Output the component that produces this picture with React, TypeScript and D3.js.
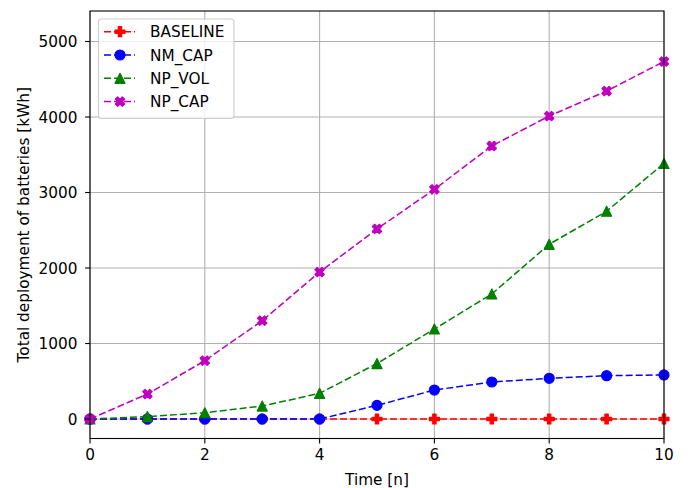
import React from "react";
import * as d3 from "d3";

const timeSteps = [0, 1, 2, 3, 4, 5, 6, 7, 8, 9, 10];
const baseline = [0, 0, 0, 0, 0, 0, 0, 0, 0, 0, 0];
const nmCap = [0, 0, 0, 0, 0, 181, 384, 490, 539, 574, 584];
const npVol = [0, 32, 83, 172, 340, 735, 1192, 1656, 2314, 2752, 3385];
const npCap = [0, 331, 772, 1302, 1947, 2517, 3042, 3616, 4013, 4344, 4735];
const seriesNames = ["BASELINE", "NM_CAP", "NP_VOL", "NP_CAP"];
const xTicks = [0, 2, 4, 6, 8, 10];
const yTicks = [0, 1000, 2000, 3000, 4000, 5000];

const colors = ["#ff0000", "#0000ff", "#008000", "#bf00bf"];
const markers = ["P", "o", "^", "X"];

const W = 688, H = 488;
const L = 90, R = 664, T = 11, B = 438.5;
const FONT = "DejaVu Sans, sans-serif";
const FS = 15.3;

function markerPath(type: string, s: number): string {
  const h = s / 2;
  if (type === "o") {
    return d3.arc()({ innerRadius: 0, outerRadius: h, startAngle: 0, endAngle: 2 * Math.PI }) as string;
  }
  if (type === "^") {
    return `M0,${-h}L${-h},${h}L${h},${h}Z`;
  }
  const pts = [[-1, -3], [1, -3], [1, -1], [3, -1], [3, 1], [1, 1], [1, 3], [-1, 3], [-1, 1], [-3, 1], [-3, -1], [-1, -1]].map(([a, b]) => [a * s / 6, b * s / 6]);
  let p = pts;
  if (type === "X") {
    const c = Math.cos(Math.PI / 4);
    p = pts.map(([a, b]) => [a * c - b * c, a * c + b * c]);
  }
  return "M" + p.map((q) => q[0].toFixed(2) + "," + q[1].toFixed(2)).join("L") + "Z";
}

export default function App() {
  const x = d3.scaleLinear().domain([0, 10]).range([L, R]);
  const y = d3.scaleLinear().domain([-258, 5404]).range([B, T]);
  const data = [baseline, nmCap, npVol, npCap];
  const line = d3.line<number>().x((_, i) => x(timeSteps[i])).y((d) => y(d));
  const ms = 10;

  return (
    <svg width={W} height={H} style={{ position: "absolute", left: 0, top: 0, background: "#fff" }} fontFamily={FONT}>
      <rect x={0} y={0} width={W} height={H} fill="#fff" />
      {/* grid */}
      {xTicks.map((t) => (
        <line key={"gx" + t} x1={x(t)} x2={x(t)} y1={T} y2={B} stroke="#b0b0b0" strokeWidth={1.1} />
      ))}
      {yTicks.map((t) => (
        <line key={"gy" + t} x1={L} x2={R} y1={y(t)} y2={y(t)} stroke="#b0b0b0" strokeWidth={1.1} />
      ))}
      {/* series */}
      <g>
        {data.map((vals, si) => (
          <g key={seriesNames[si]}>
            <path d={line(vals) as string} fill="none" stroke={colors[si]} strokeWidth={1.5} strokeDasharray="7,3" />
            {vals.map((v, i) => (
              <path key={i} d={markerPath(markers[si], ms)} transform={`translate(${x(timeSteps[i])},${y(v)})`} fill={colors[si]} stroke={colors[si]} strokeWidth={1.2} strokeLinejoin="round" />
            ))}
          </g>
        ))}
      </g>
      {/* spines */}
      <rect x={L} y={T} width={R - L} height={B - T} fill="none" stroke="#000" strokeWidth={1.1} />
      {/* x ticks */}
      {xTicks.map((t) => (
        <g key={"xt" + t}>
          <line x1={x(t)} x2={x(t)} y1={B} y2={B + 4.9} stroke="#000" strokeWidth={1.1} />
          <text x={x(t)} y={B + 21.5} textAnchor="middle" fontSize={FS} fill="#000">{t}</text>
        </g>
      ))}
      {yTicks.map((t) => (
        <g key={"yt" + t}>
          <line x1={L - 4.9} x2={L} y1={y(t)} y2={y(t)} stroke="#000" strokeWidth={1.1} />
          <text x={L - 12.5} y={y(t)} dy="0.36em" textAnchor="end" fontSize={FS} fill="#000">{t}</text>
        </g>
      ))}
      <text x={(L + R) / 2} y={485} textAnchor="middle" fontSize={FS} fill="#000">Time [n]</text>
      <text transform={`translate(29,${(T + B) / 2}) rotate(-90)`} textAnchor="middle" fontSize={FS} fill="#000">Total deployment of batteries [kWh]</text>
      {/* legend */}
      <g>
        <rect x={98.5} y={19} width={135.5} height={99.5} rx={3} ry={3} fill="#fff" fillOpacity={0.8} stroke="#cccccc" strokeWidth={1.1} />
        {seriesNames.map((name, si) => {
          const ly = 31.7 + si * 23.3;
          return (
            <g key={"lg" + name}>
              <line x1={104} x2={135} y1={ly} y2={ly} stroke={colors[si]} strokeWidth={1.5} strokeDasharray="7,3" />
              <path d={markerPath(markers[si], ms)} transform={`translate(120,${ly})`} fill={colors[si]} stroke={colors[si]} strokeWidth={1.2} strokeLinejoin="round" />
              <text x={150} y={ly} dy="0.36em" fontSize={FS} fill="#000">{name}</text>
            </g>
          );
        })}
      </g>
    </svg>
  );
}
